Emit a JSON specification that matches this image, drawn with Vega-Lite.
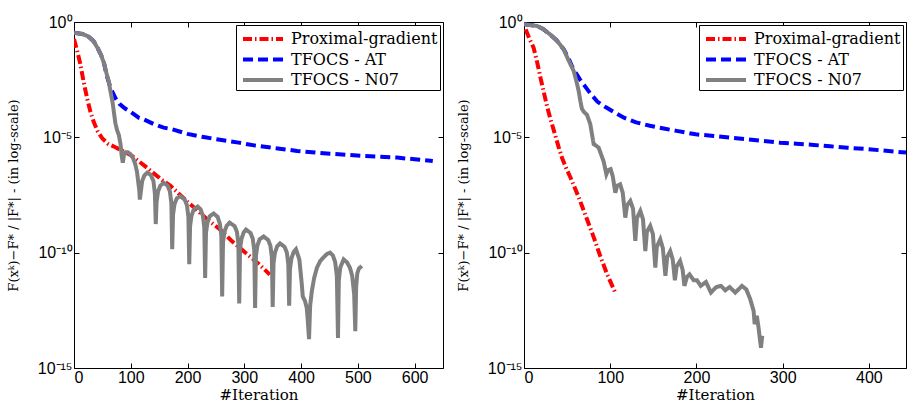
{
  "$schema": "https://vega.github.io/schema/vega-lite/v6.json",
  "padding": {"left": 6, "top": 13, "right": 0, "bottom": 0},
  "background": "white",
  "spacing": 12,
  "config": {
    "view": {"stroke": "black", "strokeWidth": 1},
    "axis": {"grid": false, "domain": false, "tickColor": "black", "tickSize": -5, "tickWidth": 1,
      "labelFont": "Liberation Sans", "labelFontSize": 16, "labelColor": "black",
      "titleFont": "DejaVu Serif", "titleFontWeight": "normal", "titleColor": "black"},
    "legend": {"orient": "top-right", "offset": 3, "strokeColor": "black", "fillColor": "white", "padding": 2,
      "rowPadding": 0.5, "labelFont": "DejaVu Serif", "labelFontSize": 16, "labelColor": "black",
      "symbolType": "M-0.7,0H3.3", "symbolSize": 400, "labelOffset": 29, "title": null}
  },
  "resolve": {
    "scale": {"color": "independent", "strokeDash": "independent", "strokeWidth": "independent"},
    "legend": {"color": "independent", "strokeDash": "independent", "strokeWidth": "independent"}
  },
  "datasets": {
    "L": [
      {"method": "Proximal-gradient", "iter": 0, "gap": 0.182},
      {"method": "Proximal-gradient", "iter": 5, "gap": 0.0631},
      {"method": "Proximal-gradient", "iter": 11, "gap": 0.0158},
      {"method": "Proximal-gradient", "iter": 17, "gap": 0.00251},
      {"method": "Proximal-gradient", "iter": 23, "gap": 5.01e-4},
      {"method": "Proximal-gradient", "iter": 29, "gap": 1.26e-4},
      {"method": "Proximal-gradient", "iter": 35, "gap": 4.47e-5},
      {"method": "Proximal-gradient", "iter": 42, "gap": 1.78e-5},
      {"method": "Proximal-gradient", "iter": 50, "gap": 8.91e-6},
      {"method": "Proximal-gradient", "iter": 60, "gap": 5.25e-6},
      {"method": "Proximal-gradient", "iter": 72, "gap": 3.80e-6},
      {"method": "Proximal-gradient", "iter": 85, "gap": 2.63e-6},
      {"method": "Proximal-gradient", "iter": 102, "gap": 1.58e-6},
      {"method": "Proximal-gradient", "iter": 125, "gap": 5.62e-7},
      {"method": "Proximal-gradient", "iter": 140, "gap": 2.82e-7},
      {"method": "Proximal-gradient", "iter": 155, "gap": 1.41e-7},
      {"method": "Proximal-gradient", "iter": 170, "gap": 7.94e-8},
      {"method": "Proximal-gradient", "iter": 185, "gap": 3.55e-8},
      {"method": "Proximal-gradient", "iter": 200, "gap": 1.58e-8},
      {"method": "Proximal-gradient", "iter": 213, "gap": 8.51e-9},
      {"method": "Proximal-gradient", "iter": 232, "gap": 3.16e-9},
      {"method": "Proximal-gradient", "iter": 261, "gap": 8.51e-10},
      {"method": "Proximal-gradient", "iter": 278, "gap": 3.16e-10},
      {"method": "Proximal-gradient", "iter": 302, "gap": 1.0e-10},
      {"method": "Proximal-gradient", "iter": 326, "gap": 3.16e-11},
      {"method": "Proximal-gradient", "iter": 345, "gap": 1.12e-11},
      {"method": "TFOCS - AT", "iter": 0, "gap": 0.339},
      {"method": "TFOCS - AT", "iter": 15, "gap": 0.302},
      {"method": "TFOCS - AT", "iter": 25, "gap": 0.240},
      {"method": "TFOCS - AT", "iter": 35, "gap": 0.141},
      {"method": "TFOCS - AT", "iter": 42, "gap": 0.0708},
      {"method": "TFOCS - AT", "iter": 48, "gap": 0.0355},
      {"method": "TFOCS - AT", "iter": 53, "gap": 0.0158},
      {"method": "TFOCS - AT", "iter": 58, "gap": 4.47e-3},
      {"method": "TFOCS - AT", "iter": 63, "gap": 1.78e-3},
      {"method": "TFOCS - AT", "iter": 67, "gap": 1.0e-3},
      {"method": "TFOCS - AT", "iter": 73, "gap": 5.01e-4},
      {"method": "TFOCS - AT", "iter": 80, "gap": 2.82e-4},
      {"method": "TFOCS - AT", "iter": 90, "gap": 1.78e-4},
      {"method": "TFOCS - AT", "iter": 100, "gap": 1.26e-4},
      {"method": "TFOCS - AT", "iter": 114, "gap": 7.08e-5},
      {"method": "TFOCS - AT", "iter": 123, "gap": 6.03e-5},
      {"method": "TFOCS - AT", "iter": 140, "gap": 3.80e-5},
      {"method": "TFOCS - AT", "iter": 158, "gap": 2.63e-5},
      {"method": "TFOCS - AT", "iter": 173, "gap": 2.24e-5},
      {"method": "TFOCS - AT", "iter": 200, "gap": 1.41e-5},
      {"method": "TFOCS - AT", "iter": 217, "gap": 1.15e-5},
      {"method": "TFOCS - AT", "iter": 231, "gap": 1.0e-5},
      {"method": "TFOCS - AT", "iter": 260, "gap": 7.59e-6},
      {"method": "TFOCS - AT", "iter": 290, "gap": 5.89e-6},
      {"method": "TFOCS - AT", "iter": 320, "gap": 4.37e-6},
      {"method": "TFOCS - AT", "iter": 349, "gap": 3.55e-6},
      {"method": "TFOCS - AT", "iter": 393, "gap": 2.57e-6},
      {"method": "TFOCS - AT", "iter": 451, "gap": 1.95e-6},
      {"method": "TFOCS - AT", "iter": 510, "gap": 1.55e-6},
      {"method": "TFOCS - AT", "iter": 569, "gap": 1.32e-6},
      {"method": "TFOCS - AT", "iter": 600, "gap": 1.12e-6},
      {"method": "TFOCS - AT", "iter": 632, "gap": 9.33e-7},
      {"method": "TFOCS - N07", "iter": 0, "gap": 0.339},
      {"method": "TFOCS - N07", "iter": 15, "gap": 0.302},
      {"method": "TFOCS - N07", "iter": 25, "gap": 0.240},
      {"method": "TFOCS - N07", "iter": 35, "gap": 0.141},
      {"method": "TFOCS - N07", "iter": 42, "gap": 0.0708},
      {"method": "TFOCS - N07", "iter": 48, "gap": 0.0355},
      {"method": "TFOCS - N07", "iter": 53, "gap": 0.0158},
      {"method": "TFOCS - N07", "iter": 57, "gap": 6.31e-3},
      {"method": "TFOCS - N07", "iter": 61, "gap": 2.75e-3},
      {"method": "TFOCS - N07", "iter": 65, "gap": 7.94e-4},
      {"method": "TFOCS - N07", "iter": 68, "gap": 3.16e-4},
      {"method": "TFOCS - N07", "iter": 70, "gap": 1.38e-4},
      {"method": "TFOCS - N07", "iter": 73, "gap": 3.98e-5},
      {"method": "TFOCS - N07", "iter": 76, "gap": 2.0e-5},
      {"method": "TFOCS - N07", "iter": 79, "gap": 1.26e-5},
      {"method": "TFOCS - N07", "iter": 82, "gap": 5.01e-6},
      {"method": "TFOCS - N07", "iter": 84, "gap": 1.58e-6},
      {"method": "TFOCS - N07", "iter": 86, "gap": 7.94e-7},
      {"method": "TFOCS - N07", "iter": 88, "gap": 1.78e-6},
      {"method": "TFOCS - N07", "iter": 91, "gap": 2.24e-6},
      {"method": "TFOCS - N07", "iter": 95, "gap": 2.24e-6},
      {"method": "TFOCS - N07", "iter": 99, "gap": 1.91e-6},
      {"method": "TFOCS - N07", "iter": 104, "gap": 1.26e-6},
      {"method": "TFOCS - N07", "iter": 108, "gap": 6.76e-7},
      {"method": "TFOCS - N07", "iter": 111, "gap": 3.16e-7},
      {"method": "TFOCS - N07", "iter": 113, "gap": 1.26e-7},
      {"method": "TFOCS - N07", "iter": 115, "gap": 5.01e-8},
      {"method": "TFOCS - N07", "iter": 116, "gap": 2.0e-8},
      {"method": "TFOCS - N07", "iter": 117.5, "gap": 3.98e-8},
      {"method": "TFOCS - N07", "iter": 120, "gap": 1.26e-7},
      {"method": "TFOCS - N07", "iter": 124, "gap": 2.24e-7},
      {"method": "TFOCS - N07", "iter": 129, "gap": 2.95e-7},
      {"method": "TFOCS - N07", "iter": 135, "gap": 2.40e-7},
      {"method": "TFOCS - N07", "iter": 140, "gap": 1.26e-7},
      {"method": "TFOCS - N07", "iter": 142.5, "gap": 3.55e-8},
      {"method": "TFOCS - N07", "iter": 144, "gap": 1.74e-9},
      {"method": "TFOCS - N07", "iter": 145.5, "gap": 1.58e-8},
      {"method": "TFOCS - N07", "iter": 148, "gap": 4.47e-8},
      {"method": "TFOCS - N07", "iter": 152, "gap": 7.94e-8},
      {"method": "TFOCS - N07", "iter": 158, "gap": 1.07e-7},
      {"method": "TFOCS - N07", "iter": 165, "gap": 7.94e-8},
      {"method": "TFOCS - N07", "iter": 169, "gap": 4.47e-8},
      {"method": "TFOCS - N07", "iter": 171.5, "gap": 1.41e-8},
      {"method": "TFOCS - N07", "iter": 173, "gap": 1.41e-10},
      {"method": "TFOCS - N07", "iter": 174.5, "gap": 4.47e-9},
      {"method": "TFOCS - N07", "iter": 177, "gap": 1.26e-8},
      {"method": "TFOCS - N07", "iter": 181, "gap": 2.24e-8},
      {"method": "TFOCS - N07", "iter": 187, "gap": 2.82e-8},
      {"method": "TFOCS - N07", "iter": 195, "gap": 2.0e-8},
      {"method": "TFOCS - N07", "iter": 199, "gap": 1.12e-8},
      {"method": "TFOCS - N07", "iter": 201.5, "gap": 3.55e-9},
      {"method": "TFOCS - N07", "iter": 203, "gap": 3.16e-11},
      {"method": "TFOCS - N07", "iter": 204.5, "gap": 1.41e-9},
      {"method": "TFOCS - N07", "iter": 207, "gap": 3.98e-9},
      {"method": "TFOCS - N07", "iter": 211, "gap": 7.59e-9},
      {"method": "TFOCS - N07", "iter": 218, "gap": 1.0e-8},
      {"method": "TFOCS - N07", "iter": 223, "gap": 7.59e-9},
      {"method": "TFOCS - N07", "iter": 227, "gap": 3.98e-9},
      {"method": "TFOCS - N07", "iter": 229.5, "gap": 1.26e-9},
      {"method": "TFOCS - N07", "iter": 231, "gap": 7.94e-12},
      {"method": "TFOCS - N07", "iter": 232.5, "gap": 7.08e-10},
      {"method": "TFOCS - N07", "iter": 235, "gap": 2.0e-9},
      {"method": "TFOCS - N07", "iter": 239, "gap": 3.80e-9},
      {"method": "TFOCS - N07", "iter": 246, "gap": 5.01e-9},
      {"method": "TFOCS - N07", "iter": 253, "gap": 3.55e-9},
      {"method": "TFOCS - N07", "iter": 257, "gap": 1.78e-9},
      {"method": "TFOCS - N07", "iter": 259.5, "gap": 5.62e-10},
      {"method": "TFOCS - N07", "iter": 261, "gap": 1.26e-12},
      {"method": "TFOCS - N07", "iter": 262.5, "gap": 2.82e-10},
      {"method": "TFOCS - N07", "iter": 265, "gap": 7.94e-10},
      {"method": "TFOCS - N07", "iter": 269, "gap": 1.48e-9},
      {"method": "TFOCS - N07", "iter": 274, "gap": 2.0e-9},
      {"method": "TFOCS - N07", "iter": 283, "gap": 1.41e-9},
      {"method": "TFOCS - N07", "iter": 287, "gap": 7.94e-10},
      {"method": "TFOCS - N07", "iter": 289.5, "gap": 2.51e-10},
      {"method": "TFOCS - N07", "iter": 291, "gap": 6.31e-13},
      {"method": "TFOCS - N07", "iter": 292.5, "gap": 1.41e-10},
      {"method": "TFOCS - N07", "iter": 295, "gap": 3.98e-10},
      {"method": "TFOCS - N07", "iter": 299, "gap": 7.59e-10},
      {"method": "TFOCS - N07", "iter": 303, "gap": 1.0e-9},
      {"method": "TFOCS - N07", "iter": 311, "gap": 7.08e-10},
      {"method": "TFOCS - N07", "iter": 315, "gap": 3.98e-10},
      {"method": "TFOCS - N07", "iter": 317.5, "gap": 1.26e-10},
      {"method": "TFOCS - N07", "iter": 319, "gap": 3.98e-13},
      {"method": "TFOCS - N07", "iter": 320.5, "gap": 7.08e-11},
      {"method": "TFOCS - N07", "iter": 323, "gap": 2.0e-10},
      {"method": "TFOCS - N07", "iter": 327, "gap": 3.80e-10},
      {"method": "TFOCS - N07", "iter": 334, "gap": 5.01e-10},
      {"method": "TFOCS - N07", "iter": 342, "gap": 3.55e-10},
      {"method": "TFOCS - N07", "iter": 346, "gap": 2.0e-10},
      {"method": "TFOCS - N07", "iter": 348.5, "gap": 6.31e-11},
      {"method": "TFOCS - N07", "iter": 350, "gap": 4.47e-13},
      {"method": "TFOCS - N07", "iter": 351.5, "gap": 3.55e-11},
      {"method": "TFOCS - N07", "iter": 354, "gap": 1.0e-10},
      {"method": "TFOCS - N07", "iter": 358, "gap": 1.91e-10},
      {"method": "TFOCS - N07", "iter": 363, "gap": 2.51e-10},
      {"method": "TFOCS - N07", "iter": 371, "gap": 1.78e-10},
      {"method": "TFOCS - N07", "iter": 375, "gap": 1.0e-10},
      {"method": "TFOCS - N07", "iter": 377.5, "gap": 3.16e-11},
      {"method": "TFOCS - N07", "iter": 379, "gap": 5.01e-13},
      {"method": "TFOCS - N07", "iter": 380.5, "gap": 2.0e-11},
      {"method": "TFOCS - N07", "iter": 383, "gap": 5.62e-11},
      {"method": "TFOCS - N07", "iter": 387, "gap": 1.07e-10},
      {"method": "TFOCS - N07", "iter": 391, "gap": 1.41e-10},
      {"method": "TFOCS - N07", "iter": 397, "gap": 5.01e-11},
      {"method": "TFOCS - N07", "iter": 401, "gap": 5.01e-12},
      {"method": "TFOCS - N07", "iter": 403, "gap": 1.26e-12},
      {"method": "TFOCS - N07", "iter": 407, "gap": 7.94e-13},
      {"method": "TFOCS - N07", "iter": 410, "gap": 3.98e-13},
      {"method": "TFOCS - N07", "iter": 412, "gap": 1.0e-13},
      {"method": "TFOCS - N07", "iter": 414, "gap": 1.78e-14},
      {"method": "TFOCS - N07", "iter": 416, "gap": 5.01e-13},
      {"method": "TFOCS - N07", "iter": 419, "gap": 2.19e-12},
      {"method": "TFOCS - N07", "iter": 423, "gap": 7.94e-12},
      {"method": "TFOCS - N07", "iter": 428, "gap": 2.24e-11},
      {"method": "TFOCS - N07", "iter": 434, "gap": 4.47e-11},
      {"method": "TFOCS - N07", "iter": 440, "gap": 6.46e-11},
      {"method": "TFOCS - N07", "iter": 446, "gap": 8.91e-11},
      {"method": "TFOCS - N07", "iter": 451, "gap": 1.0e-10},
      {"method": "TFOCS - N07", "iter": 456, "gap": 7.59e-11},
      {"method": "TFOCS - N07", "iter": 460, "gap": 3.98e-11},
      {"method": "TFOCS - N07", "iter": 463, "gap": 1.0e-11},
      {"method": "TFOCS - N07", "iter": 465, "gap": 2.0e-14},
      {"method": "TFOCS - N07", "iter": 466.5, "gap": 6.31e-12},
      {"method": "TFOCS - N07", "iter": 469, "gap": 2.24e-11},
      {"method": "TFOCS - N07", "iter": 475, "gap": 5.13e-11},
      {"method": "TFOCS - N07", "iter": 481, "gap": 3.80e-11},
      {"method": "TFOCS - N07", "iter": 486, "gap": 2.24e-11},
      {"method": "TFOCS - N07", "iter": 490, "gap": 1.0e-11},
      {"method": "TFOCS - N07", "iter": 493.5, "gap": 1.58e-12},
      {"method": "TFOCS - N07", "iter": 495.5, "gap": 3.98e-14},
      {"method": "TFOCS - N07", "iter": 497, "gap": 3.16e-12},
      {"method": "TFOCS - N07", "iter": 499, "gap": 1.26e-11},
      {"method": "TFOCS - N07", "iter": 502, "gap": 2.09e-11},
      {"method": "TFOCS - N07", "iter": 507, "gap": 2.63e-11}
    ],
    "R": [
      {"method": "Proximal-gradient", "iter": 2, "gap": 0.479},
      {"method": "Proximal-gradient", "iter": 6, "gap": 0.200},
      {"method": "Proximal-gradient", "iter": 11, "gap": 0.0794},
      {"method": "Proximal-gradient", "iter": 15, "gap": 0.0200},
      {"method": "Proximal-gradient", "iter": 19, "gap": 3.98e-3},
      {"method": "Proximal-gradient", "iter": 23, "gap": 8.91e-4},
      {"method": "Proximal-gradient", "iter": 27, "gap": 2.0e-4},
      {"method": "Proximal-gradient", "iter": 31, "gap": 5.62e-5},
      {"method": "Proximal-gradient", "iter": 35, "gap": 1.78e-5},
      {"method": "Proximal-gradient", "iter": 40, "gap": 3.98e-6},
      {"method": "Proximal-gradient", "iter": 44, "gap": 1.32e-6},
      {"method": "Proximal-gradient", "iter": 49, "gap": 4.47e-7},
      {"method": "Proximal-gradient", "iter": 54, "gap": 1.78e-7},
      {"method": "Proximal-gradient", "iter": 59, "gap": 6.31e-8},
      {"method": "Proximal-gradient", "iter": 64, "gap": 2.24e-8},
      {"method": "Proximal-gradient", "iter": 69, "gap": 7.08e-9},
      {"method": "Proximal-gradient", "iter": 75, "gap": 1.78e-9},
      {"method": "Proximal-gradient", "iter": 81, "gap": 4.47e-10},
      {"method": "Proximal-gradient", "iter": 88, "gap": 7.94e-11},
      {"method": "Proximal-gradient", "iter": 96, "gap": 1.26e-11},
      {"method": "Proximal-gradient", "iter": 106, "gap": 1.78e-12},
      {"method": "TFOCS - AT", "iter": 0, "gap": 0.794},
      {"method": "TFOCS - AT", "iter": 15, "gap": 0.676},
      {"method": "TFOCS - AT", "iter": 22, "gap": 0.501},
      {"method": "TFOCS - AT", "iter": 30, "gap": 0.295},
      {"method": "TFOCS - AT", "iter": 38, "gap": 0.158},
      {"method": "TFOCS - AT", "iter": 46, "gap": 0.0661},
      {"method": "TFOCS - AT", "iter": 52, "gap": 0.0251},
      {"method": "TFOCS - AT", "iter": 56, "gap": 0.0112},
      {"method": "TFOCS - AT", "iter": 60, "gap": 6.31e-3},
      {"method": "TFOCS - AT", "iter": 65, "gap": 3.16e-3},
      {"method": "TFOCS - AT", "iter": 70, "gap": 1.78e-3},
      {"method": "TFOCS - AT", "iter": 77, "gap": 7.94e-4},
      {"method": "TFOCS - AT", "iter": 85, "gap": 3.55e-4},
      {"method": "TFOCS - AT", "iter": 95, "gap": 2.0e-4},
      {"method": "TFOCS - AT", "iter": 105, "gap": 1.20e-4},
      {"method": "TFOCS - AT", "iter": 116, "gap": 7.08e-5},
      {"method": "TFOCS - AT", "iter": 130, "gap": 4.47e-5},
      {"method": "TFOCS - AT", "iter": 146, "gap": 3.16e-5},
      {"method": "TFOCS - AT", "iter": 162, "gap": 2.40e-5},
      {"method": "TFOCS - AT", "iter": 177, "gap": 1.91e-5},
      {"method": "TFOCS - AT", "iter": 199, "gap": 1.35e-5},
      {"method": "TFOCS - AT", "iter": 220, "gap": 1.15e-5},
      {"method": "TFOCS - AT", "iter": 240, "gap": 9.55e-6},
      {"method": "TFOCS - AT", "iter": 259, "gap": 8.13e-6},
      {"method": "TFOCS - AT", "iter": 278, "gap": 6.92e-6},
      {"method": "TFOCS - AT", "iter": 297, "gap": 5.89e-6},
      {"method": "TFOCS - AT", "iter": 316, "gap": 5.25e-6},
      {"method": "TFOCS - AT", "iter": 336, "gap": 4.68e-6},
      {"method": "TFOCS - AT", "iter": 355, "gap": 4.07e-6},
      {"method": "TFOCS - AT", "iter": 375, "gap": 3.55e-6},
      {"method": "TFOCS - AT", "iter": 395, "gap": 3.16e-6},
      {"method": "TFOCS - AT", "iter": 413, "gap": 2.75e-6},
      {"method": "TFOCS - AT", "iter": 443, "gap": 2.19e-6},
      {"method": "TFOCS - N07", "iter": 0, "gap": 0.794},
      {"method": "TFOCS - N07", "iter": 15, "gap": 0.676},
      {"method": "TFOCS - N07", "iter": 22, "gap": 0.501},
      {"method": "TFOCS - N07", "iter": 30, "gap": 0.295},
      {"method": "TFOCS - N07", "iter": 38, "gap": 0.158},
      {"method": "TFOCS - N07", "iter": 46, "gap": 0.0661},
      {"method": "TFOCS - N07", "iter": 52, "gap": 0.0204},
      {"method": "TFOCS - N07", "iter": 57.6, "gap": 7.59e-3},
      {"method": "TFOCS - N07", "iter": 61, "gap": 2.51e-3},
      {"method": "TFOCS - N07", "iter": 63.4, "gap": 1.02e-3},
      {"method": "TFOCS - N07", "iter": 65.5, "gap": 3.55e-4},
      {"method": "TFOCS - N07", "iter": 67.2, "gap": 1.70e-4},
      {"method": "TFOCS - N07", "iter": 70, "gap": 1.20e-4},
      {"method": "TFOCS - N07", "iter": 73, "gap": 9.55e-5},
      {"method": "TFOCS - N07", "iter": 76.9, "gap": 3.72e-5},
      {"method": "TFOCS - N07", "iter": 79, "gap": 1.26e-5},
      {"method": "TFOCS - N07", "iter": 80.8, "gap": 5.01e-6},
      {"method": "TFOCS - N07", "iter": 83.5, "gap": 4.37e-6},
      {"method": "TFOCS - N07", "iter": 86.6, "gap": 3.55e-6},
      {"method": "TFOCS - N07", "iter": 89.5, "gap": 1.78e-6},
      {"method": "TFOCS - N07", "iter": 92.4, "gap": 8.91e-7},
      {"method": "TFOCS - N07", "iter": 95.5, "gap": 2.51e-7},
      {"method": "TFOCS - N07", "iter": 97.5, "gap": 3.80e-7},
      {"method": "TFOCS - N07", "iter": 100.5, "gap": 4.17e-7},
      {"method": "TFOCS - N07", "iter": 103, "gap": 2.0e-7},
      {"method": "TFOCS - N07", "iter": 105.9, "gap": 3.98e-8},
      {"method": "TFOCS - N07", "iter": 108, "gap": 7.94e-8},
      {"method": "TFOCS - N07", "iter": 111.5, "gap": 9.12e-8},
      {"method": "TFOCS - N07", "iter": 114.5, "gap": 3.98e-8},
      {"method": "TFOCS - N07", "iter": 117.5, "gap": 3.31e-9},
      {"method": "TFOCS - N07", "iter": 119.5, "gap": 1.12e-8},
      {"method": "TFOCS - N07", "iter": 123.3, "gap": 1.74e-8},
      {"method": "TFOCS - N07", "iter": 126.5, "gap": 7.94e-9},
      {"method": "TFOCS - N07", "iter": 129.1, "gap": 3.24e-10},
      {"method": "TFOCS - N07", "iter": 131, "gap": 3.16e-9},
      {"method": "TFOCS - N07", "iter": 134.9, "gap": 6.46e-9},
      {"method": "TFOCS - N07", "iter": 138, "gap": 2.82e-9},
      {"method": "TFOCS - N07", "iter": 140.7, "gap": 1.17e-10},
      {"method": "TFOCS - N07", "iter": 142.5, "gap": 7.94e-10},
      {"method": "TFOCS - N07", "iter": 146.4, "gap": 1.45e-9},
      {"method": "TFOCS - N07", "iter": 149.5, "gap": 6.31e-10},
      {"method": "TFOCS - N07", "iter": 152.3, "gap": 2.24e-11},
      {"method": "TFOCS - N07", "iter": 154, "gap": 1.78e-10},
      {"method": "TFOCS - N07", "iter": 158, "gap": 3.80e-10},
      {"method": "TFOCS - N07", "iter": 161, "gap": 1.58e-10},
      {"method": "TFOCS - N07", "iter": 164, "gap": 1.0e-11},
      {"method": "TFOCS - N07", "iter": 166, "gap": 6.31e-11},
      {"method": "TFOCS - N07", "iter": 169.6, "gap": 1.17e-10},
      {"method": "TFOCS - N07", "iter": 172.5, "gap": 5.01e-11},
      {"method": "TFOCS - N07", "iter": 175, "gap": 6.31e-12},
      {"method": "TFOCS - N07", "iter": 177, "gap": 2.51e-11},
      {"method": "TFOCS - N07", "iter": 181, "gap": 4.37e-11},
      {"method": "TFOCS - N07", "iter": 184, "gap": 1.78e-11},
      {"method": "TFOCS - N07", "iter": 186, "gap": 3.63e-12},
      {"method": "TFOCS - N07", "iter": 189, "gap": 8.91e-12},
      {"method": "TFOCS - N07", "iter": 192, "gap": 1.15e-11},
      {"method": "TFOCS - N07", "iter": 196.8, "gap": 6.31e-12},
      {"method": "TFOCS - N07", "iter": 200.6, "gap": 6.31e-12},
      {"method": "TFOCS - N07", "iter": 205, "gap": 3.63e-12},
      {"method": "TFOCS - N07", "iter": 211, "gap": 5.37e-12},
      {"method": "TFOCS - N07", "iter": 216.8, "gap": 1.86e-12},
      {"method": "TFOCS - N07", "iter": 223, "gap": 3.24e-12},
      {"method": "TFOCS - N07", "iter": 228.4, "gap": 3.63e-12},
      {"method": "TFOCS - N07", "iter": 233.4, "gap": 2.34e-12},
      {"method": "TFOCS - N07", "iter": 238.5, "gap": 3.24e-12},
      {"method": "TFOCS - N07", "iter": 245, "gap": 1.86e-12},
      {"method": "TFOCS - N07", "iter": 252.8, "gap": 3.63e-12},
      {"method": "TFOCS - N07", "iter": 257.8, "gap": 2.57e-12},
      {"method": "TFOCS - N07", "iter": 262.4, "gap": 9.55e-13},
      {"method": "TFOCS - N07", "iter": 266.3, "gap": 2.95e-13},
      {"method": "TFOCS - N07", "iter": 267.5, "gap": 7.94e-14},
      {"method": "TFOCS - N07", "iter": 270, "gap": 1.82e-13},
      {"method": "TFOCS - N07", "iter": 272, "gap": 5.62e-14},
      {"method": "TFOCS - N07", "iter": 274.8, "gap": 7.59e-15},
      {"method": "TFOCS - N07", "iter": 276.3, "gap": 2.51e-14}
    ]
  },
  "hconcat": [
    {
      "width": 369,
      "height": 346,
      "data": {"name": "L"},
      "layer": [
        {
          "mark": {"type": "line", "clip": true},
          "encoding": {
            "x": {"field": "iter", "type": "quantitative",
              "scale": {"domain": [0, 650], "nice": false, "zero": false},
              "axis": {"values": [0, 100, 200, 300, 400, 500, 600], "title": "#Iteration", "titleFontSize": 15, "labelPadding": 6, "titlePadding": 2}},
            "y": {"field": "gap", "type": "quantitative",
              "scale": {"type": "log", "domain": [1e-15, 1], "nice": false},
              "axis": {"values": [1e-15, 1e-10, 1e-5, 1], "labelExpr": "datum.value > 0.5 ? '10⁰' : datum.value > 5e-6 ? '10⁻⁵' : datum.value > 5e-11 ? '10⁻¹⁰' : '10⁻¹⁵'",
                "title": "F(xᵏ)−F* / |F*| - (in log-scale)", "titleFontSize": 13, "labelPadding": 7, "titlePadding": 17}},
            "color": {"field": "method", "type": "nominal",
              "scale": {"domain": ["Proximal-gradient", "TFOCS - AT", "TFOCS - N07"], "range": ["#ff0000", "#0000ff", "#808080"]}},
            "strokeDash": {"field": "method", "type": "nominal",
              "scale": {"domain": ["Proximal-gradient", "TFOCS - AT", "TFOCS - N07"], "range": [[9, 3, 1.5, 3], [10, 5], [1, 0]]}},
            "strokeWidth": {"field": "method", "type": "nominal",
              "scale": {"domain": ["Proximal-gradient", "TFOCS - AT", "TFOCS - N07"], "range": [4, 4, 5]}}
          }
        },
        {
          "mark": {"type": "line", "opacity": 0},
          "encoding": {
            "x": {"field": "iter", "type": "quantitative", "axis": {"orient": "top", "values": [0, 100, 200, 300, 400, 500, 600], "labels": false, "title": null}},
            "y": {"field": "gap", "type": "quantitative", "scale": {"type": "log"}, "axis": {"orient": "right", "values": [1e-15, 1e-10, 1e-5, 1], "labels": false, "title": null}},
            "detail": {"field": "method"}
          }
        }
      ],
      "resolve": {"axis": {"x": "independent", "y": "independent"}}
    },
    {
      "width": 382,
      "height": 346,
      "data": {"name": "R"},
      "layer": [
        {
          "mark": {"type": "line", "clip": true},
          "encoding": {
            "x": {"field": "iter", "type": "quantitative",
              "scale": {"domain": [0, 443], "nice": false, "zero": false},
              "axis": {"values": [0, 100, 200, 300, 400], "title": "#Iteration", "titleFontSize": 15, "labelPadding": 6, "titlePadding": 2}},
            "y": {"field": "gap", "type": "quantitative",
              "scale": {"type": "log", "domain": [1e-15, 1], "nice": false},
              "axis": {"values": [1e-15, 1e-10, 1e-5, 1], "labelExpr": "datum.value > 0.5 ? '10⁰' : datum.value > 5e-6 ? '10⁻⁵' : datum.value > 5e-11 ? '10⁻¹⁰' : '10⁻¹⁵'",
                "title": "F(xᵏ)−F* / |F*| - (in log-scale)", "titleFontSize": 13, "labelPadding": 7, "titlePadding": 17}},
            "color": {"field": "method", "type": "nominal",
              "scale": {"domain": ["Proximal-gradient", "TFOCS - AT", "TFOCS - N07"], "range": ["#ff0000", "#0000ff", "#808080"]}},
            "strokeDash": {"field": "method", "type": "nominal",
              "scale": {"domain": ["Proximal-gradient", "TFOCS - AT", "TFOCS - N07"], "range": [[9, 3, 1.5, 3], [10, 5], [1, 0]]}},
            "strokeWidth": {"field": "method", "type": "nominal",
              "scale": {"domain": ["Proximal-gradient", "TFOCS - AT", "TFOCS - N07"], "range": [4, 4, 5]}}
          }
        },
        {
          "mark": {"type": "line", "opacity": 0},
          "encoding": {
            "x": {"field": "iter", "type": "quantitative", "axis": {"orient": "top", "values": [0, 100, 200, 300, 400], "labels": false, "title": null}},
            "y": {"field": "gap", "type": "quantitative", "scale": {"type": "log"}, "axis": {"orient": "right", "values": [1e-15, 1e-10, 1e-5, 1], "labels": false, "title": null}},
            "detail": {"field": "method"}
          }
        }
      ],
      "resolve": {"axis": {"x": "independent", "y": "independent"}}
    }
  ]
}
